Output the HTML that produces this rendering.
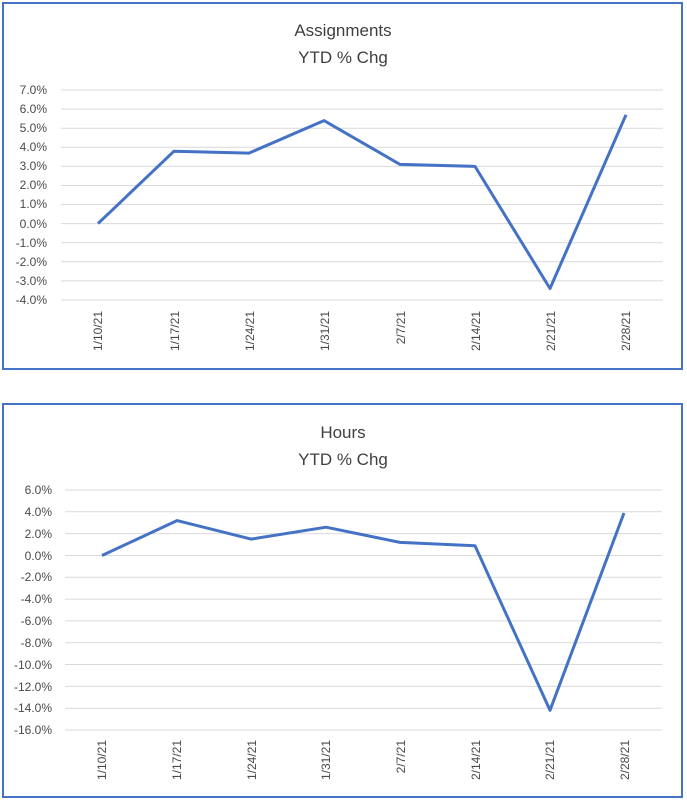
<!DOCTYPE html><html><head><style>body{margin:0;background:#fff}svg{display:block}text{font-family:"Liberation Sans",sans-serif}</style></head><body>
<svg width="687" height="802" xmlns="http://www.w3.org/2000/svg">
<rect x="3" y="3" width="679" height="366" fill="#fff" stroke="#4472c4" stroke-width="2"/>
<rect x="3" y="404" width="679" height="393" fill="#fff" stroke="#4472c4" stroke-width="2"/>
<g fill="#404040" font-size="17" text-anchor="middle">
<text x="343" y="36">Assignments</text><text x="343" y="63">YTD % Chg</text>
<text x="343" y="438">Hours</text><text x="343" y="465">YTD % Chg</text></g>
<g stroke="#d9d9d9" stroke-width="1">
<line x1="61" x2="663" y1="90" y2="90"/><line x1="61" x2="663" y1="109.1" y2="109.1"/><line x1="61" x2="663" y1="128.2" y2="128.2"/><line x1="61" x2="663" y1="147.3" y2="147.3"/><line x1="61" x2="663" y1="166.4" y2="166.4"/><line x1="61" x2="663" y1="185.5" y2="185.5"/><line x1="61" x2="663" y1="204.5" y2="204.5"/><line x1="61" x2="663" y1="223.6" y2="223.6"/><line x1="61" x2="663" y1="242.7" y2="242.7"/><line x1="61" x2="663" y1="261.8" y2="261.8"/><line x1="61" x2="663" y1="280.9" y2="280.9"/><line x1="61" x2="663" y1="300" y2="300"/>
<line x1="65" x2="662" y1="490" y2="490"/><line x1="65" x2="662" y1="511.8" y2="511.8"/><line x1="65" x2="662" y1="533.6" y2="533.6"/><line x1="65" x2="662" y1="555.5" y2="555.5"/><line x1="65" x2="662" y1="577.3" y2="577.3"/><line x1="65" x2="662" y1="599.1" y2="599.1"/><line x1="65" x2="662" y1="620.9" y2="620.9"/><line x1="65" x2="662" y1="642.7" y2="642.7"/><line x1="65" x2="662" y1="664.5" y2="664.5"/><line x1="65" x2="662" y1="686.4" y2="686.4"/><line x1="65" x2="662" y1="708.2" y2="708.2"/><line x1="65" x2="662" y1="730" y2="730"/>
</g>
<g fill="#4a4a4a" font-size="12" text-anchor="end">
<text x="47" y="94">7.0%</text><text x="47" y="113">6.0%</text><text x="47" y="132">5.0%</text><text x="47" y="151">4.0%</text><text x="47" y="170">3.0%</text><text x="47" y="189">2.0%</text><text x="47" y="208">1.0%</text><text x="47" y="228">0.0%</text><text x="47" y="247">-1.0%</text><text x="47" y="266">-2.0%</text><text x="47" y="285">-3.0%</text><text x="47" y="304">-4.0%</text>
<text x="52" y="494">6.0%</text><text x="52" y="516">4.0%</text><text x="52" y="538">2.0%</text><text x="52" y="560">0.0%</text><text x="52" y="581">-2.0%</text><text x="52" y="603">-4.0%</text><text x="52" y="625">-6.0%</text><text x="52" y="647">-8.0%</text><text x="52" y="669">-10.0%</text><text x="52" y="691">-12.0%</text><text x="52" y="712">-14.0%</text><text x="52" y="734">-16.0%</text>
</g>
<g fill="#4a4a4a" font-size="12" text-anchor="end">
<text transform="translate(102,311) rotate(-90)">1/10/21</text><text transform="translate(179,311) rotate(-90)">1/17/21</text><text transform="translate(254,311) rotate(-90)">1/24/21</text><text transform="translate(329,311) rotate(-90)">1/31/21</text><text transform="translate(405,311) rotate(-90)">2/7/21</text><text transform="translate(480,311) rotate(-90)">2/14/21</text><text transform="translate(555,311) rotate(-90)">2/21/21</text><text transform="translate(630,311) rotate(-90)">2/28/21</text>
<text transform="translate(106,740) rotate(-90)">1/10/21</text><text transform="translate(181,740) rotate(-90)">1/17/21</text><text transform="translate(256,740) rotate(-90)">1/24/21</text><text transform="translate(330,740) rotate(-90)">1/31/21</text><text transform="translate(405,740) rotate(-90)">2/7/21</text><text transform="translate(480,740) rotate(-90)">2/14/21</text><text transform="translate(554,740) rotate(-90)">2/21/21</text><text transform="translate(629,740) rotate(-90)">2/28/21</text>
</g>
<polyline fill="none" stroke="#4472c4" stroke-width="3" stroke-linejoin="round" points="98,223.6 174,151.2 249,153.1 324,120.6 400,164.4 475,166.4 550,288.5 626,114.8"/>
<polyline fill="none" stroke="#4472c4" stroke-width="3" stroke-linejoin="round" points="102,555.5 177,520.6 251,539.1 326,527.2 400,542.4 475,545.7 550,710.3 624,513"/>
</svg></body></html>
